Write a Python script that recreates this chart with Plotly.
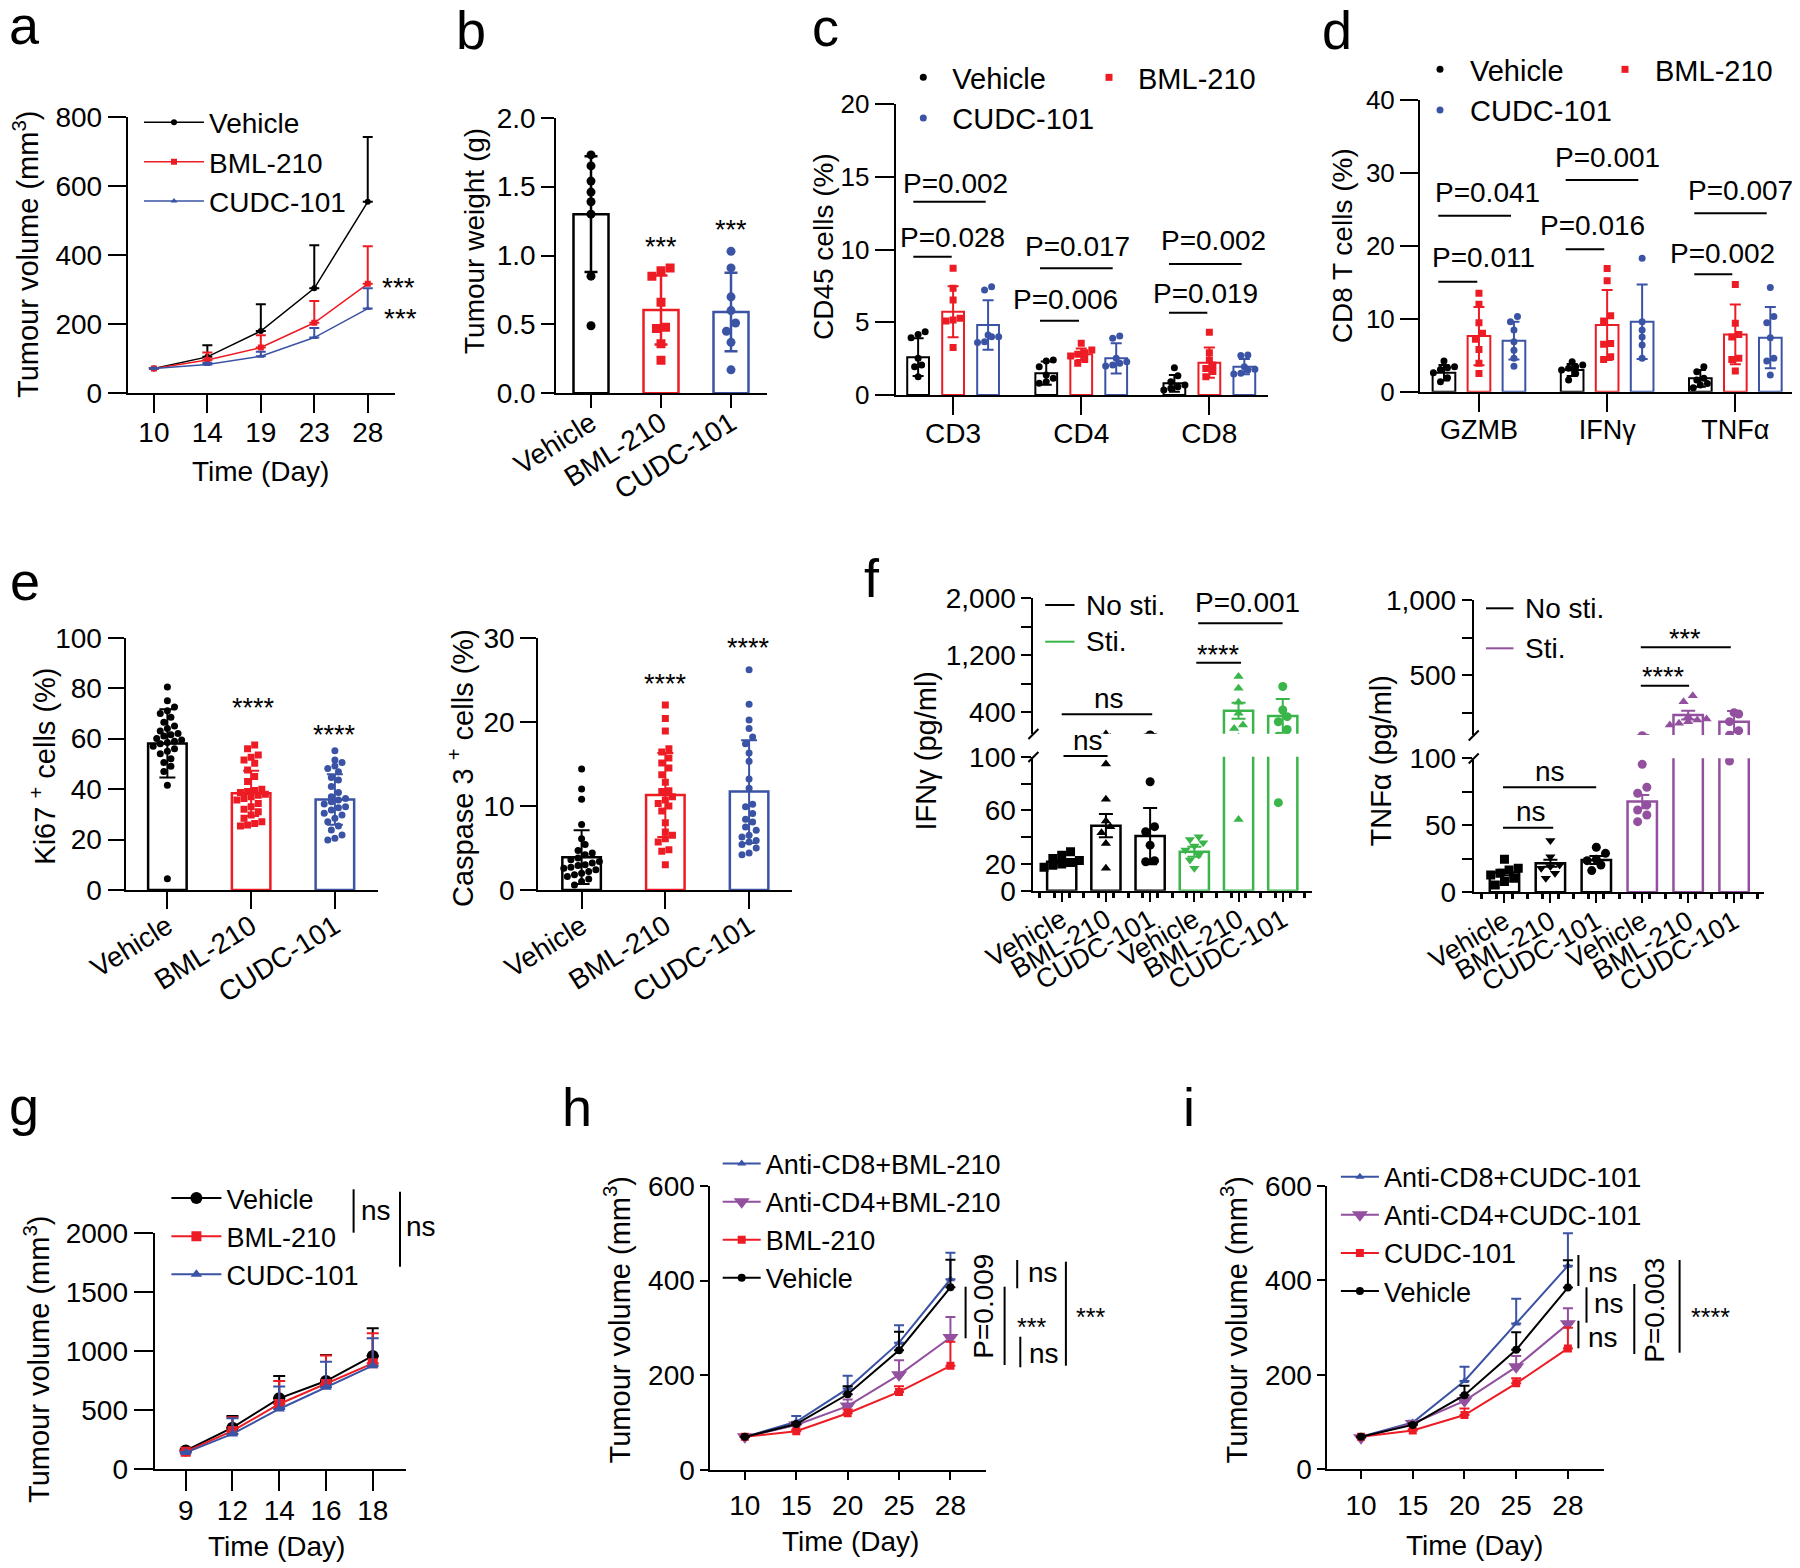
import plotly.graph_objects as go

W, H = 1800, 1568
OFF = 8  # the page body offsets the plot div by 8px
RED = '#ED1C24'
BLUE = '#3A53A4'
GREEN = '#39B54A'
PURPLE = '#92509F'
SANS = 'Liberation Sans, Arial, sans-serif'

# ---------------- data ----------------
# a: tumour growth
a_days = ['10', '14', '19', '23', '28']
a_vehicle = [70, 104, 179, 303, 554]
a_vehicle_err = [2, 34, 78, 125, 188]
a_bml = [70, 95, 131, 203, 316]
a_bml_err = [2, 22, 36, 63, 109]
a_cudc = [70, 82, 106, 160, 244]
a_cudc_err = [2, 5, 13, 28, 59]

# b: tumour weight
treat = ['Vehicle', 'BML-210', 'CUDC-101']
b_mean = [1.30, 0.605, 0.59]
b_sd = [0.42, 0.25, 0.285]
b_pts = [[1.73, 1.65, 1.54, 1.46, 1.39, 1.30, 0.85, 0.49],
         [0.91, 0.89, 0.85, 0.66, 0.48, 0.47, 0.36, 0.24],
         [1.03, 0.91, 0.70, 0.60, 0.51, 0.45, 0.37, 0.17]]

# c: CD45 subsets
c_cats = ['CD3', 'CD4', 'CD8']
c_mean = [[2.6, 1.5, 0.8], [5.73, 2.8, 2.22], [4.82, 2.52, 1.95]]
c_sd = [[1.3, 0.8, 0.58], [1.75, 0.4, 1.04], [1.7, 1.04, 0.53]]
c_vehicle_pts = [[4.36, 4.17, 3.94, 2.52, 2.06, 1.95, 1.26],
                 [2.34, 2.41, 1.95, 1.38, 1.15, 0.92, 0.80],
                 [1.88, 1.33, 0.92, 0.69, 0.57, 0.46, 0.34]]
c_bml_pts = [[8.72, 7.34, 6.54, 5.28, 5.16, 5.09, 3.26],
             [3.56, 3.10, 2.91, 2.80, 2.68, 2.45, 2.18],
             [4.31, 2.91, 2.41, 2.06, 1.83, 1.61, 1.26]]
c_cudc_pts = [[7.45, 7.22, 4.13, 4.01, 4.0, 3.67, 3.62],
              [4.06, 3.90, 2.52, 2.29, 2.18, 2.06, 2.00],
              [2.75, 2.71, 1.95, 1.77, 1.72, 1.49, 1.45]]

# d: CD8 T cell cytokines
d_cats = ['GZMB', 'IFNγ', 'TNFα']
d_mean = [[2.6, 2.97, 1.83], [7.63, 9.14, 7.86], [7.0, 9.6, 7.4]]
d_sd = [[1.06, 0.83, 1.14], [4.0, 4.8, 4.1], [2.6, 5.1, 4.2]]
d_vehicle_pts = [[4.2, 3.43, 3.29, 3.06, 2.6, 1.92, 1.37],
                 [4.1, 3.66, 3.43, 3.2, 2.97, 2.5, 1.6],
                 [3.43, 2.74, 1.83, 1.6, 1.14, 0.91, 0.55]]
d_bml_pts = [[13.5, 12.0, 9.46, 8.0, 7.18, 5.8, 3.9, 2.5],
             [16.9, 15.2, 10.4, 9.7, 6.6, 6.5, 4.8, 4.43],
             [14.7, 9.37, 7.86, 7.5, 4.57, 4.43, 2.83]]
d_cudc_pts = [[10.3, 9.6, 8.46, 6.86, 5.7, 4.57, 3.5],
              [18.3, 9.6, 8.46, 7.5, 6.4, 4.57],
              [14.3, 10.3, 9.46, 7.4, 4.57, 4.2, 2.28]]

# e: Ki67 and caspase 3
e_ki67_mean = [58.1, 38.3, 35.9]
e_ki67_sd = [13.5, 9.0, 10.0]
e_ki67_pts = [
    [80.5, 75, 72.5, 71, 70, 68.5, 66.5, 65, 64, 63, 62, 61.5, 61, 60, 59.5, 59, 58.5, 58,
     57, 56, 55, 54, 52, 50.5, 49, 47, 41.5, 4.5],
    [57.5, 56, 53.5, 52.6, 51.5, 50.2, 47.6, 45, 43, 39.9, 39.4, 39, 38.6, 38, 37.6, 37,
     36.3, 35.7, 34.3, 33, 32, 31, 29.7, 28.4, 27.1, 26.4, 25.8, 25.4],
    [55.2, 51.5, 50.5, 49.1, 48.2, 46.9, 44.6, 43.6, 41, 38.6, 37, 36.3, 35.7, 35, 34.1,
     33, 32.6, 31.7, 30.4, 29.7, 28.4, 27.1, 25.4, 23.8, 21.8, 20.5, 19.8]]
e_casp_mean = [3.9, 11.3, 11.7]
e_casp_sd = [3.2, 5.0, 6.1]
e_casp_pts = [
    [14.4, 12.0, 10.8, 7.8, 6.1, 5.4, 4.7, 4.4, 4.2, 3.8, 3.6, 3.4, 3.2, 3.0, 2.9, 2.7,
     2.6, 2.4, 2.2, 2.0, 1.8, 1.6, 1.3, 1.0, 0.6],
    [22.0, 20.4, 18.9, 16.8, 16.4, 15.7, 15.1, 14.5, 13.7, 12.8, 11.8, 11.7, 11.1, 10.7,
     10.3, 10.0, 9.4, 8.0, 6.9, 6.5, 6.1, 5.7, 4.8, 4.6, 3.0],
    [26.2, 22.1, 20.2, 19.2, 18.2, 17.4, 16.3, 15.3, 13.2, 12.1, 10.2, 9.9, 9.1, 8.4, 8.1,
     7.5, 7.1, 6.5, 6.3, 5.9, 5.7, 5.4, 5.0, 4.4, 4.2]]

# f: cytokine release (no stimulation / stimulation)
f_groups = ['Vehicle', 'BML-210', 'CUDC-101', 'Vehicle', 'BML-210', 'CUDC-101']
f_ifn_mean = [21.6, 48.5, 40.8, 29.1, 423, 348]
f_ifn_sem = [1.3, 8.7, 21.0, 3.7, 113, 238]
f_ifn_pts = [[29, 26.5, 24, 22.5, 21, 20, 19, 17.5],
             [94.5, 68.2, 52, 47.8, 43.3, 35.3, 16.7],
             [81.3, 47.8, 44, 34, 22.4, 21.6],
             [40.3, 38.3, 35.8, 33.3, 30.3, 26.6, 22.9, 16.7],
             [903, 739, 541, 386, 221, 174, 53.2],
             [762, 433, 339, 268, 160, 65.7]]
f_tnf_mean = [14.7, 21.6, 24.1, 67.7, 233, 189]
f_tnf_sem = [2.1, 2.6, 2.9, 4.9, 29, 71]
f_tnf_pts = [[24.6, 17.9, 16.7, 14.2, 12.9, 10.4, 8.0, 5.5],
             [38.6, 26.6, 20.4, 19.2, 17.9, 14.2, 10.4],
             [33.6, 29.1, 24.6, 23.6, 20.4, 16.2],
             [95.5, 78.4, 73.9, 65.2, 61.4, 57.7, 52.7],
             [362, 322, 222, 207, 200, 189, 178, 167],
             [249, 240, 189, 129, 98]]

# g: tumour growth (second model)
g_days = ['9', '12', '14', '16', '18']
g_vehicle = [158, 352, 600, 746, 958]
g_vehicle_err = [10, 99, 189, 220, 234]
g_bml = [149, 324, 552, 721, 896]
g_bml_err = [8, 116, 194, 240, 253]
g_cudc = [141, 299, 510, 693, 876]
g_cudc_err = [6, 132, 189, 217, 231]

# h: depletion + BML-210
hi_days = ['10', '15', '20', '25', '28']
h_cd8 = [70, 102, 172, 269, 403]
h_cd8_err = [0, 12, 27, 37, 56]
h_cd4 = [70, 95, 135, 201, 280]
h_cd4_err = [0, 3, 14, 31, 43]
h_bml = [70, 82, 120, 165, 220]
h_bml_err = [0, 3, 8, 12, 51]
h_vehicle = [70, 97, 160, 253, 386]
h_vehicle_err = [0, 3, 17, 39, 58]

# i: depletion + CUDC-101
i_cd8 = [69, 99, 187, 309, 431]
i_cd8_err = [0, 4, 30, 52, 69]
i_cd4 = [67, 97, 145, 217, 308]
i_cd4_err = [0, 3, 6, 23, 33]
i_cudc = [69, 82, 115, 182, 256]
i_cudc_err = [0, 3, 14, 11, 44]
i_vehicle = [69, 94, 157, 253, 385]
i_vehicle_err = [0, 3, 20, 37, 58]

# ---------------- helpers ----------------
fig = go.Figure()
shapes, annotations = [], []


def px(x):
    return (x - OFF) / W


def py(y):
    return 1 - (y - OFF) / H


def xd(a, b):
    return [px(a), px(b)]


def yd(top, bot):
    return [py(bot), py(top)]


def note(text, x, y, size, angle=0, xanchor='center'):
    annotations.append(dict(text=text, x=px(x), y=py(y), xref='paper', yref='paper',
                            showarrow=False, textangle=angle, xanchor=xanchor, yanchor='middle',
                            font=dict(size=size, family=SANS, color='black')))


def seg(x0, y0, x1, y1, color='black', width=2):
    shapes.append(dict(type='line', xref='paper', yref='paper', x0=px(x0), y0=py(y0),
                       x1=px(x1), y1=py(y1), line=dict(color=color, width=width)))


def swarm(vals, tol, step):
    # GraphPad-like side-by-side placement of close values
    order = sorted(range(len(vals)), key=lambda k: vals[k])
    offs = [0.0] * len(vals)
    i = 0
    while i < len(order):
        j = i
        while j + 1 < len(order) and vals[order[j + 1]] - vals[order[i]] < tol:
            j += 1
        n = j - i + 1
        for k in range(n):
            offs[order[i + k]] = (k - (n - 1) / 2) * step
        i = j + 1
    return offs


def bars(xs, means, errs, color, xa, ya, width, lw=2, cap=5, thick=2):
    fig.add_trace(go.Bar(x=xs, y=means, width=width,
                         marker=dict(color='white', line=dict(color=color, width=lw)),
                         error_y=dict(type='data', array=errs, color=color, thickness=thick, width=cap),
                         xaxis=xa, yaxis=ya, showlegend=False))


def dots(xs, vals_list, tol, step, color, symbol, size, xa, ya, name=None, legend=None):
    x, y = [], []
    for xc, vals in zip(xs, vals_list):
        for o, v in zip(swarm(vals, tol, step), vals):
            x.append(xc + o)
            y.append(v)
    fig.add_trace(go.Scatter(x=x, y=y, mode='markers', name=name,
                             marker=dict(color=color, symbol=symbol, size=size, line=dict(width=0)),
                             xaxis=xa, yaxis=ya, showlegend=legend is not None,
                             legend=legend or 'legend'))


def growth(days, mean, err, color, symbol, size, xa, ya, name, legend, lw=2, cap=5):
    fig.add_trace(go.Scatter(x=list(range(len(days))), y=mean, mode='lines+markers', name=name,
                             legend=legend, line=dict(color=color, width=lw),
                             marker=dict(symbol=symbol, size=size, color=color),
                             error_y=dict(type='data', symmetric=False, array=err,
                                          arrayminus=[0] * len(err), color=color,
                                          thickness=2, width=cap),
                             xaxis=xa, yaxis=ya))


def axis(dom, rng, anchor, ticklen, size, **kw):
    d = dict(domain=dom, range=rng, anchor=anchor, showline=True, linecolor='black',
             linewidth=2, ticks='outside', ticklen=ticklen, tickwidth=2, tickcolor='black',
             showgrid=False, zeroline=False, fixedrange=True, automargin=False,
             tickfont=dict(size=size, family=SANS, color='black'))
    d.update(kw)
    return d


def minor_at(vals, ticklen):
    return dict(tickmode='array', tickvals=vals, ticks='outside', ticklen=ticklen,
                tickwidth=2, tickcolor='black')


def legend_at(left, top, size, itemwidth=30):
    return dict(x=px(left), y=py(top), xanchor='left', yanchor='top',
                bgcolor='rgba(0,0,0,0)', borderwidth=0, itemwidth=itemwidth,
                font=dict(size=size, family=SANS, color='black'), tracegroupgap=0)


col3 = ['black', RED, BLUE]
sym3 = ['circle', 'square', 'circle']

# ---------------- a ----------------
growth(a_days, a_vehicle, a_vehicle_err, 'black', 'circle', 6, 'x', 'y', 'Vehicle', 'legend', lw=1.5)
growth(a_days, a_bml, a_bml_err, RED, 'square', 6, 'x', 'y', 'BML-210', 'legend', lw=1.5)
growth(a_days, a_cudc, a_cudc_err, BLUE, 'triangle-up', 6, 'x', 'y', 'CUDC-101', 'legend', lw=1.5)

# ---------------- b ----------------
for k in range(3):
    bars([k], [b_mean[k]], [b_sd[k]], col3[k], 'x2', 'y2', 0.5, lw=2.5, cap=6.5, thick=2.5)
    dots([k], [b_pts[k]], 0.065, 0.13, col3[k], sym3[k], 9, 'x2', 'y2')

# ---------------- c / d ----------------
offs = [-0.273, 0, 0.273]
c_pts = [c_vehicle_pts, c_bml_pts, c_cudc_pts]
d_pts = [d_vehicle_pts, d_bml_pts, d_cudc_pts]
c_leg = ['legend2', 'legend3', 'legend2']
d_leg = ['legend4', 'legend5', 'legend4']
for k in range(3):
    xs = [g + offs[k] for g in range(3)]
    bars(xs, c_mean[k], c_sd[k], col3[k], 'x3', 'y3', 0.17, cap=5.5)
    dots(xs, c_pts[k], 0.48, 0.055, col3[k], sym3[k], 7, 'x3', 'y3', treat[k], c_leg[k])
    bars(xs, d_mean[k], d_sd[k], col3[k], 'x4', 'y4', 0.177, cap=5.5)
    dots(xs, d_pts[k], 0.96, 0.055, col3[k], sym3[k], 7, 'x4', 'y4', treat[k], d_leg[k])

# ---------------- e ----------------
for k in range(3):
    bars([k], [e_ki67_mean[k]], [e_ki67_sd[k]], col3[k], 'x5', 'y5', 0.46, lw=2.5, cap=8)
    dots([k], [e_ki67_pts[k]], 2.8, 0.085, col3[k], sym3[k], 7, 'x5', 'y5')
    bars([k], [e_casp_mean[k]], [e_casp_sd[k]], col3[k], 'x6', 'y6', 0.46, lw=2.5, cap=8)
    dots([k], [e_casp_pts[k]], 0.83, 0.085, col3[k], sym3[k], 7, 'x6', 'y6')

# ---------------- f ----------------
ifn_sym = ['square', 'triangle-up', 'circle', 'triangle-down', 'triangle-up', 'circle']
tnf_sym = ['square', 'triangle-down', 'circle', 'circle', 'triangle-up', 'circle']
ifn_tol = [6, 6, 6, 6, 110, 110]
tnf_tol = [6, 6, 6, 6, 55, 55]
for k in range(6):
    c_ifn = 'black' if k < 3 else GREEN
    c_tnf = 'black' if k < 3 else PURPLE
    for ya in ['y7', 'y8']:
        bars([k], [f_ifn_mean[k]], [f_ifn_sem[k]], c_ifn, 'x7', ya, 0.66, lw=2.5, cap=7)
        dots([k], [f_ifn_pts[k]], ifn_tol[k], 0.2, c_ifn, ifn_sym[k], 9, 'x7', ya)
    for ya in ['y9', 'y10']:
        bars([k], [f_tnf_mean[k]], [f_tnf_sem[k]], c_tnf, 'x9', ya, 0.64, lw=2.5, cap=7)
        dots([k], [f_tnf_pts[k]], tnf_tol[k], 0.2, c_tnf, tnf_sym[k], 9, 'x9', ya)

# ---------------- g / h / i ----------------
growth(g_days, g_vehicle, g_vehicle_err, 'black', 'circle', 12, 'x11', 'y11', 'Vehicle', 'legend6', cap=6)
growth(g_days, g_bml, g_bml_err, RED, 'square', 10, 'x11', 'y11', 'BML-210', 'legend6', cap=6)
growth(g_days, g_cudc, g_cudc_err, BLUE, 'triangle-up', 10, 'x11', 'y11', 'CUDC-101', 'legend6', cap=6)

growth(hi_days, h_cd8, h_cd8_err, BLUE, 'triangle-up', 8, 'x12', 'y12', 'Anti-CD8+BML-210', 'legend7')
growth(hi_days, h_cd4, h_cd4_err, PURPLE, 'triangle-down', 14, 'x12', 'y12', 'Anti-CD4+BML-210', 'legend7')
growth(hi_days, h_bml, h_bml_err, RED, 'square', 8, 'x12', 'y12', 'BML-210', 'legend7')
growth(hi_days, h_vehicle, h_vehicle_err, 'black', 'circle', 8, 'x12', 'y12', 'Vehicle', 'legend7')

growth(hi_days, i_cd8, i_cd8_err, BLUE, 'triangle-up', 8, 'x13', 'y13', 'Anti-CD8+CUDC-101', 'legend8')
growth(hi_days, i_cd4, i_cd4_err, PURPLE, 'triangle-down', 14, 'x13', 'y13', 'Anti-CD4+CUDC-101', 'legend8')
growth(hi_days, i_cudc, i_cudc_err, RED, 'square', 8, 'x13', 'y13', 'CUDC-101', 'legend8')
growth(hi_days, i_vehicle, i_vehicle_err, 'black', 'circle', 8, 'x13', 'y13', 'Vehicle', 'legend8')

# ---------------- axes ----------------
idx5 = list(range(5))
f_minor = dict(ticks='outside', ticklen=5, tickwidth=3, tickcolor='black', tick0=-0.5, dtick=1 / 3)
layout = dict(
    xaxis=axis(xd(127.7, 395), [-0.49, 4.51], 'y', 18, 28, tickvals=idx5, ticktext=a_days,
               ticklabelstandoff=-4),
    yaxis=axis(yd(117, 392.7), [0, 800], 'x', 18, 28, tickvals=[0, 200, 400, 600, 800]),
    xaxis2=axis(xd(556, 766.7), [-0.5, 2.51], 'y2', 12.7, 28, tickvals=[0, 1, 2],
                ticktext=treat, tickangle=-32, ticklabelstandoff=-12),
    yaxis2=axis(yd(117.7, 393.3), [0, 2], 'x2', 12.7, 28, tickvals=[0, 0.5, 1, 1.5, 2],
                tickformat='.1f'),
    xaxis3=axis(xd(895.7, 1268.3), [-0.448, 2.46], 'y3', 18, 28, tickvals=[0, 1, 2],
                ticktext=c_cats, ticklabelstandoff=-6),
    yaxis3=axis(yd(104.3, 395), [0, 20], 'x3', 19, 26, tickvals=[0, 5, 10, 15, 20]),
    xaxis4=axis(xd(1420, 1793), [-0.46, 2.45], 'y4', 18, 27, tickvals=[0, 1, 2],
                ticktext=d_cats, ticklabelstandoff=-5),
    yaxis4=axis(yd(100, 391.7), [0, 40], 'x4', 18, 26, tickvals=[0, 10, 20, 30, 40]),
    xaxis5=axis(xd(125.5, 377.6), [-0.5, 2.51], 'y5', 17, 28, tickvals=[0, 1, 2],
                ticktext=treat, tickangle=-32, ticklabelstandoff=-10),
    yaxis5=axis(yd(637.7, 890), [0, 100], 'x5', 16, 28, tickvals=[0, 20, 40, 60, 80, 100]),
    xaxis6=axis(xd(538.3, 791.8), [-0.517, 2.51], 'y6', 17, 28, tickvals=[0, 1, 2],
                ticktext=treat, tickangle=-32, ticklabelstandoff=-10),
    yaxis6=axis(yd(637.7, 890), [0, 30], 'x6', 16, 28, tickvals=[0, 10, 20, 30]),
    xaxis7=axis(xd(1033.4, 1311.5), [-0.64, 5.65], 'y7', 9, 27,
                tickvals=list(range(6)), ticktext=f_groups, tickangle=-30, minor=f_minor,
                ticklabelstandoff=-8),
    yaxis7=axis(yd(756.7, 890.7), [0, 100], 'x7', 10, 28, tickvals=[0, 20, 60, 100],
                minor=minor_at([40, 80], 10)),
    yaxis8=axis(yd(598.3, 733.7), [100, 2000], 'x7', 10, 28, tickvals=[400, 1200, 2000],
                ticktext=['400', '1,200', '2,000'], minor=minor_at([800, 1600], 10)),
    xaxis9=axis(xd(1473.7, 1764.4), [-0.67, 5.66], 'y9', 9, 27,
                tickvals=list(range(6)), ticktext=f_groups, tickangle=-30, minor=f_minor,
                ticklabelstandoff=-8),
    yaxis9=axis(yd(758.3, 892.3), [0, 100], 'x9', 10, 28, tickvals=[0, 50, 100],
                minor=minor_at([25, 75], 10)),
    yaxis10=axis(yd(600, 735), [100, 1000], 'x9', 10, 28, tickvals=[500, 1000],
                 ticktext=['500', '1,000'], minor=minor_at([250, 750], 10)),
    xaxis11=axis(xd(154.6, 406.4), [-0.665, 4.72], 'y11', 20, 28, tickvals=idx5,
                 ticktext=g_days, ticklabelstandoff=-5),
    yaxis11=axis(yd(1232.7, 1469.3), [0, 2000], 'x11', 19, 28,
                 tickvals=[0, 500, 1000, 1500, 2000]),
    xaxis12=axis(xd(710.4, 985.9), [-0.67, 4.69], 'y12', 8, 28, tickvals=idx5,
                 ticktext=hi_days, ticklabelstandoff=1),
    yaxis12=axis(yd(1186, 1470), [0, 600], 'x12', 8, 28, tickvals=[0, 200, 400, 600]),
    xaxis13=axis(xd(1327.4, 1603.6), [-0.65, 4.69], 'y13', 8, 28, tickvals=idx5,
                 ticktext=hi_days, ticklabelstandoff=2),
    yaxis13=axis(yd(1186, 1469.3), [0, 600], 'x13', 8, 28, tickvals=[0, 200, 400, 600]),
)

# ---------------- legends ----------------
layout.update(
    legend=legend_at(139, 97.6, 28, 60),
    legend2=legend_at(894.3, 52, 29, 48),
    legend3=legend_at(1080, 52, 29, 48),
    legend4=legend_at(1410, 44, 29, 50),
    legend5=legend_at(1595, 44, 29, 50),
    legend6=legend_at(166.4, 1174, 27, 50),
    legend7=legend_at(717.7, 1139.5, 27, 38),
    legend8=legend_at(1335.9, 1152.7, 27, 38),
)

# f legends (short line keys)
seg(1045.2, 605, 1074.5, 605, 'black')
note('No sti.', 1083.7, 605, 28, xanchor='left')
seg(1045.2, 641.7, 1074.5, 641.7, GREEN)
note('Sti.', 1083.7, 641.7, 28, xanchor='left')
seg(1486, 608.3, 1513.5, 608.3, 'black')
note('No sti.', 1522.7, 608.3, 28, xanchor='left')
seg(1486, 648.3, 1513.5, 648.3, PURPLE)
note('Sti.', 1522.7, 648.3, 28, xanchor='left')

# axis breaks in f
for xb, yb in [(1033.4, 734), (1033.4, 757), (1473.7, 735.5), (1473.7, 758.5)]:
    seg(xb - 5, yb + 5, xb + 5, yb - 5)

# ---------------- panel letters ----------------
for lab, x, base in [('a', 24, 44), ('b', 470.8, 49), ('c', 825, 46), ('d', 1336.7, 49),
                     ('e', 25, 600), ('f', 872, 597), ('g', 24, 1125),
                     ('h', 577, 1126), ('i', 1189, 1126)]:
    note(lab, x, base - 18.7, 54)

# ---------------- axis titles ----------------
note('Tumour volume (mm<sup>3</sup>)', 26, 255, 29, angle=-90)
note('Time (Day)', 260.8, 471.7, 28)
note('Tumour weight (g)', 475, 241, 28, angle=-90)
note('CD45 cells (%)', 823.3, 246.7, 28, angle=-90)
note('CD8 T cells (%)', 1342.5, 245.8, 28, angle=-90)
note('Ki67 <sup>+</sup> cells (%)', 43, 766.7, 29, angle=-90)
note('Caspase 3 <sup>+</sup> cells (%)', 461, 768, 29, angle=-90)
note('IFNγ (pg/ml)', 925, 750.5, 29, angle=-90)
note('TNFα (pg/ml)', 1380, 761.5, 29, angle=-90)
note('Tumour volume (mm<sup>3</sup>)', 37, 1360, 29, angle=-90)
note('Time (Day)', 276, 1546.7, 28)
note('Tumour volume (mm<sup>3</sup>)', 617.4, 1320, 29, angle=-90)
note('Time (Day)', 850, 1541.7, 28)
note('Tumour volume (mm<sup>3</sup>)', 1234.5, 1320, 29, angle=-90)
note('Time (Day)', 1474.3, 1545, 28)

# ---------------- significance marks ----------------
# a, b
note('***', 398.8, 287.5, 28)
note('***', 400, 318.5, 28)
note('***', 661, 246.5, 27)
note('***', 731, 229.8, 27)

# c
for x0, x1, y in [(913.3, 985.7, 201.7), (913.3, 951.7, 256.7), (1040, 1112.7, 268.3),
                  (1040, 1079, 320.7), (1169, 1241.7, 264), (1169, 1207.3, 312.7)]:
    seg(x0, y, x1, y)
for t, x, y in [('P=0.002', 955.8, 183.3), ('P=0.028', 952.8, 237.3), ('P=0.017', 1077.7, 246),
                ('P=0.006', 1065.5, 299), ('P=0.002', 1213, 240.7), ('P=0.019', 1205.8, 293.3)]:
    note(t, x, y, 28)

# d
for x0, x1, y in [(1438.3, 1511, 215.7), (1438.3, 1477.3, 281.7), (1565.7, 1638.3, 180),
                  (1565.7, 1604.3, 249.3), (1694.3, 1766.7, 213.3), (1694.3, 1732.3, 274.3)]:
    seg(x0, y, x1, y)
for t, x, y in [('P=0.041', 1487.2, 192.7), ('P=0.011', 1483.7, 257.3), ('P=0.001', 1607.3, 157.3),
                ('P=0.016', 1592.7, 225.7), ('P=0.007', 1740, 190), ('P=0.002', 1722.5, 253.3)]:
    note(t, x, y, 28)

# e
note('****', 253.8, 707.5, 27)
note('****', 334.7, 734.8, 27)
note('****', 665.8, 683.8, 27)
note('****', 748.9, 647.5, 27)

# f
for x0, x1, y in [(1063.5, 1107.6, 756), (1061.7, 1152.2, 714.3), (1196.3, 1241, 662.7),
                  (1198.2, 1282.6, 623.3), (1503, 1553.2, 827.7), (1503, 1596.2, 787.3),
                  (1640.8, 1689.1, 685.7), (1640.8, 1730.8, 647.3)]:
    seg(x0, y, x1, y)
note('ns', 1088, 740, 28)
note('ns', 1109.4, 698.3, 28)
note('****', 1218.4, 654.8, 27)
note('P=0.001', 1247.2, 602.7, 28)
note('ns', 1530.6, 811.7, 28)
note('ns', 1550.3, 771.7, 28)
note('****', 1663.4, 676.5, 27)
note('***', 1684.9, 639.2, 27)

# g
seg(353.6, 1189.3, 353.6, 1232.7)
note('ns', 375.7, 1210.7, 28)
seg(400, 1191.7, 400, 1266.7)
note('ns', 421.4, 1226.7, 28)

# h
seg(965.6, 1286.7, 965.6, 1338.3)
note('P=0.009', 984, 1306.7, 28, angle=-90)
seg(1004.6, 1286.7, 1004.6, 1365)
note('***', 1031.5, 1327, 25)
seg(1017.2, 1260, 1017.2, 1288.3)
note('ns', 1043, 1272.7, 28)
seg(1020.3, 1336.7, 1020.3, 1367.3)
note('ns', 1044.1, 1353.3, 28)
seg(1065.9, 1261.7, 1065.9, 1365.7)
note('***', 1090, 1317, 25)

# i
seg(1578.4, 1255, 1578.4, 1286)
note('ns', 1602.9, 1272.7, 28)
seg(1586.5, 1287.3, 1586.5, 1322.7)
note('ns', 1609, 1303.3, 28)
seg(1578.4, 1320.7, 1578.4, 1348.3)
note('ns', 1602.9, 1337.3, 28)
seg(1634.3, 1284, 1634.3, 1354)
note('P=0.003', 1653.8, 1310, 28, angle=-90)
seg(1679.6, 1260, 1679.6, 1352.7)
note('****', 1710.2, 1317, 25)

layout.update(
    width=W, height=H, margin=dict(l=0, r=0, t=0, b=0, pad=0, autoexpand=False),
    paper_bgcolor='white', plot_bgcolor='white', barmode='overlay',
    font=dict(family=SANS, color='black'), showlegend=True,
    shapes=shapes, annotations=annotations,
)
fig.update_layout(**layout)

fig.write_html('out.html')
